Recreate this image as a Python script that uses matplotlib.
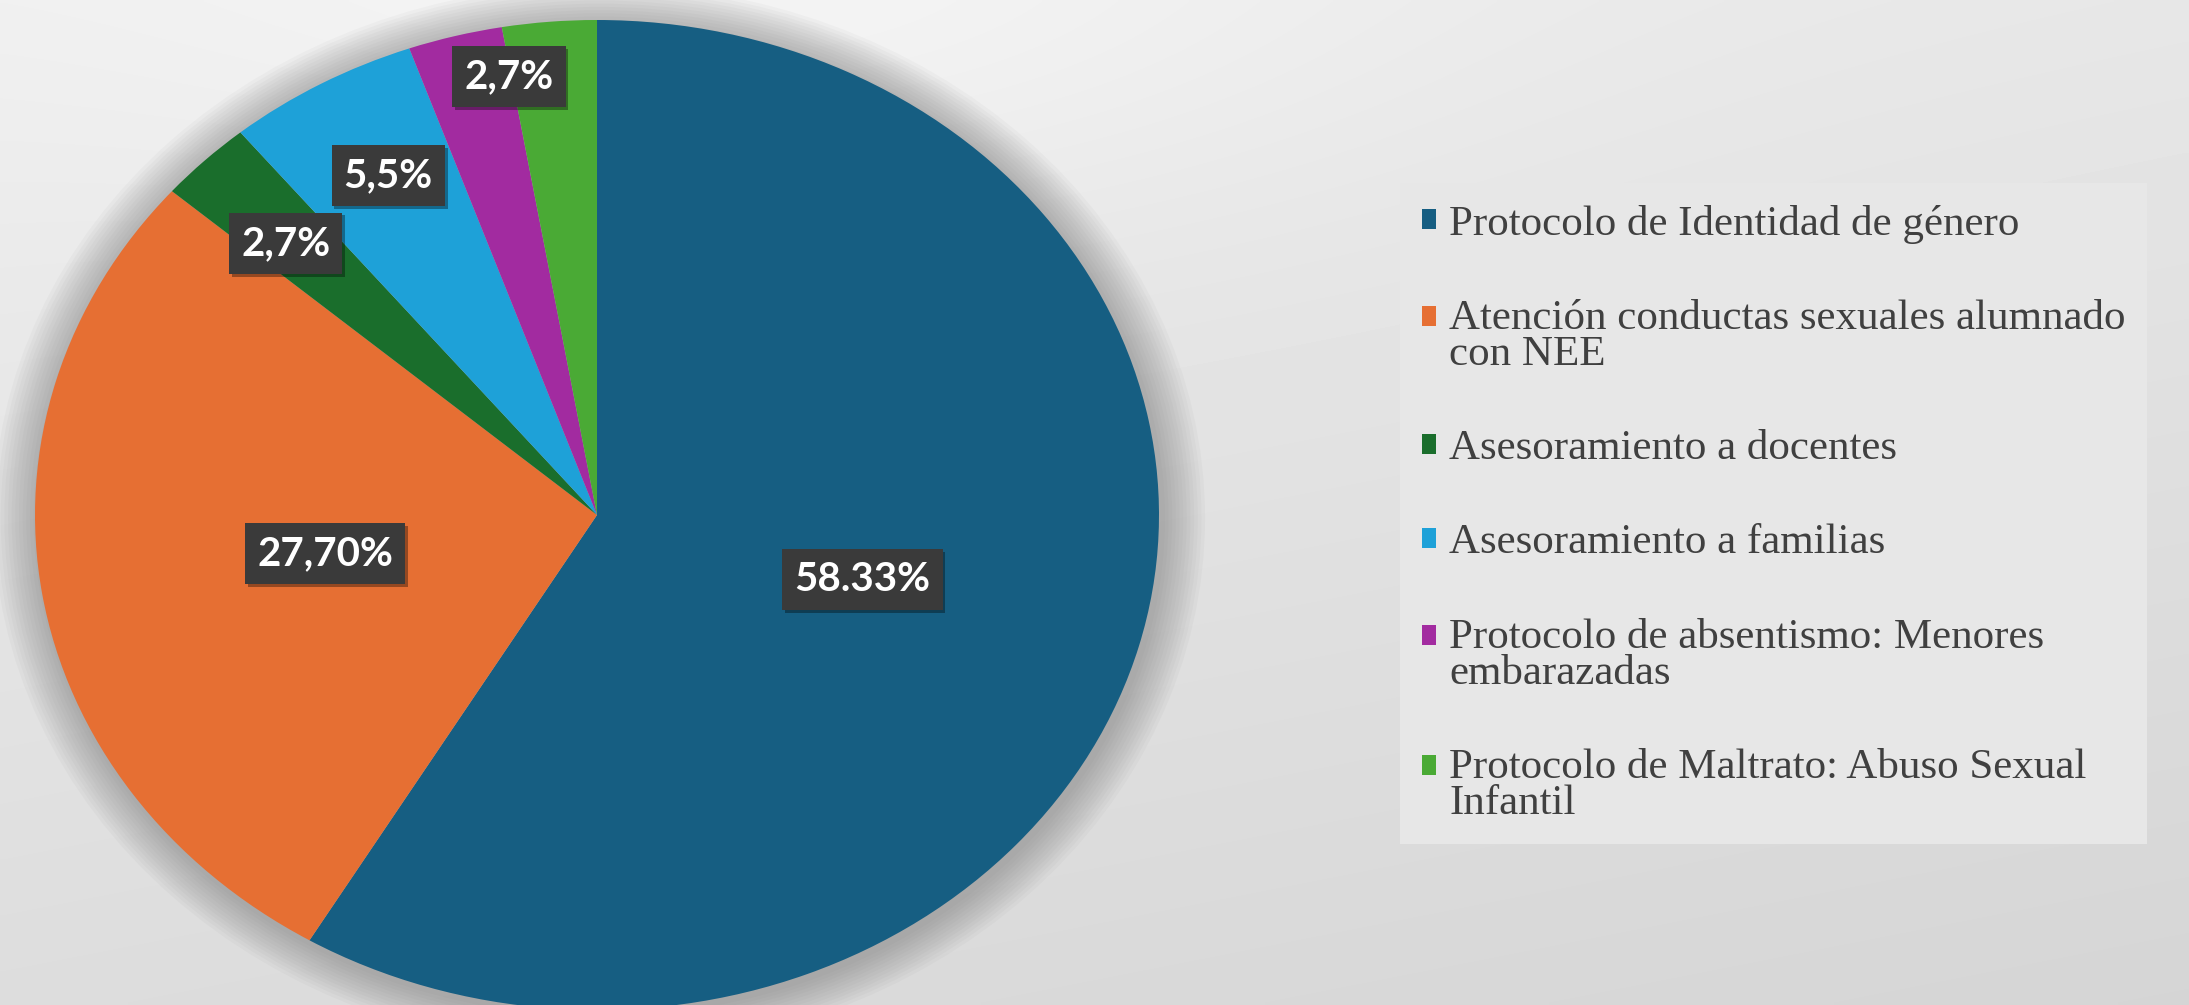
import numpy as np
import matplotlib
matplotlib.use("Agg")
import matplotlib.pyplot as plt
from matplotlib.patches import Ellipse, Rectangle
from matplotlib.legend_handler import HandlerPatch
import matplotlib.patheffects as pe

# ---- data ----
categories = [
    "Protocolo de Identidad de género",
    "Atención conductas sexuales alumnado\ncon NEE",
    "Asesoramiento a docentes",
    "Asesoramiento a familias",
    "Protocolo de absentismo: Menores\nembarazadas",
    "Protocolo de Maltrato: Abuso Sexual\nInfantil",
]
values = [58.33, 27.70, 2.7, 5.5, 2.7, 2.7]
value_labels = ["58.33%", "27,70%", "2,7%", "5,5%", "2,7%", ""]

# ---- style ----
colors = ["#165e82", "#e66f33", "#1a6e2c", "#1ea1d8", "#a22ba0", "#4aaa35"]
label_r = [0.49, 0.49, 0.78, 0.78, 0.90, None]
label_dtheta = [0, 0, 1, -1, -4.6, 0]
LEG_FS = 31
LEG_LS = 0.9

W, H = 2189, 1005
fig = plt.figure(figsize=(W / 100, H / 100), dpi=100)

# background gradient
bg = fig.add_axes([0, 0, 1, 1], zorder=-10)
yy, xx = np.mgrid[0:1:200j, 0:1:400j]
grad = 0.935 - 0.07 * yy - 0.03 * xx + 0.03 * np.exp(-((xx - 0.35) ** 2) / 0.08 - (yy ** 2) / 0.05)
bg.imshow(grad, cmap="gray", vmin=0, vmax=1, aspect="auto", extent=[0, 1, 0, 1], interpolation="bilinear")
bg.set_axis_off()

# pie axes (elliptical, as in the stretched reference)
cx, cy, rx, ry = 597, 515, 562, 495
ax = fig.add_axes([(cx - rx) / W, (H - cy - ry) / H, 2 * rx / W, 2 * ry / H])

# soft shadow halo
for k in range(12, 0, -1):
    s = 1.0 + 0.0065 * k
    ax.add_patch(Ellipse((0.004, -0.006), 2 * s, 2 * s, facecolor="#6a6a6a", alpha=0.045,
                         edgecolor="none", zorder=0, clip_on=False))

wedges, _ = ax.pie(values, colors=colors, startangle=90, counterclock=False,
                   radius=1.0, wedgeprops=dict(linewidth=0, zorder=2, clip_on=False))
ax.set_aspect("auto")
ax.set_xlim(-1, 1)
ax.set_ylim(-1, 1)
ax.set_axis_off()

for w, lab, r, dt in zip(wedges, value_labels, label_r, label_dtheta):
    if r is None or not lab:
        continue
    th = np.deg2rad((w.theta1 + w.theta2) / 2 + dt)
    t = ax.text(r * np.cos(th), r * np.sin(th), lab, ha="center", va="center",
                color="white", fontsize=29, fontweight="bold", family="Lato", zorder=5,
                bbox=dict(boxstyle="square,pad=0.3", facecolor="#3a3a3a", edgecolor="none"))
    t.get_bbox_patch().set_path_effects([
        pe.SimplePatchShadow(offset=(2, -2), shadow_rgbFace="#000000", alpha=0.35), pe.Normal()])


# legend marker aligned with the first line of wrapped entries
def first_line_patch(legend, orig_handle, xdescent, ydescent, width, height, fontsize):
    shift = 0.0
    if "\n" in orig_handle.get_label():
        shift = 0.5 * fontsize * LEG_LS
    return Rectangle((-xdescent, -ydescent + shift), width, height)


for w, c in zip(wedges, categories):
    w.set_label(c)

hmap = {w: HandlerPatch(patch_func=first_line_patch) for w in wedges}
leg = ax.legend(wedges, categories, loc="upper left", handler_map=hmap,
                bbox_to_anchor=(1400 / W, 1 - 183 / H), bbox_transform=fig.transFigure,
                frameon=True, fancybox=False, facecolor="#e7e7e7", edgecolor="none", framealpha=1,
                prop=dict(family="Liberation Serif", size=LEG_FS), labelcolor="#404040",
                handlelength=0.34, handleheight=0.34, handletextpad=0.3,
                labelspacing=1.3, borderpad=0.5, borderaxespad=0)
for t in leg.get_texts():
    t.set_linespacing(LEG_LS)

fig.savefig("out.png", dpi=100)
